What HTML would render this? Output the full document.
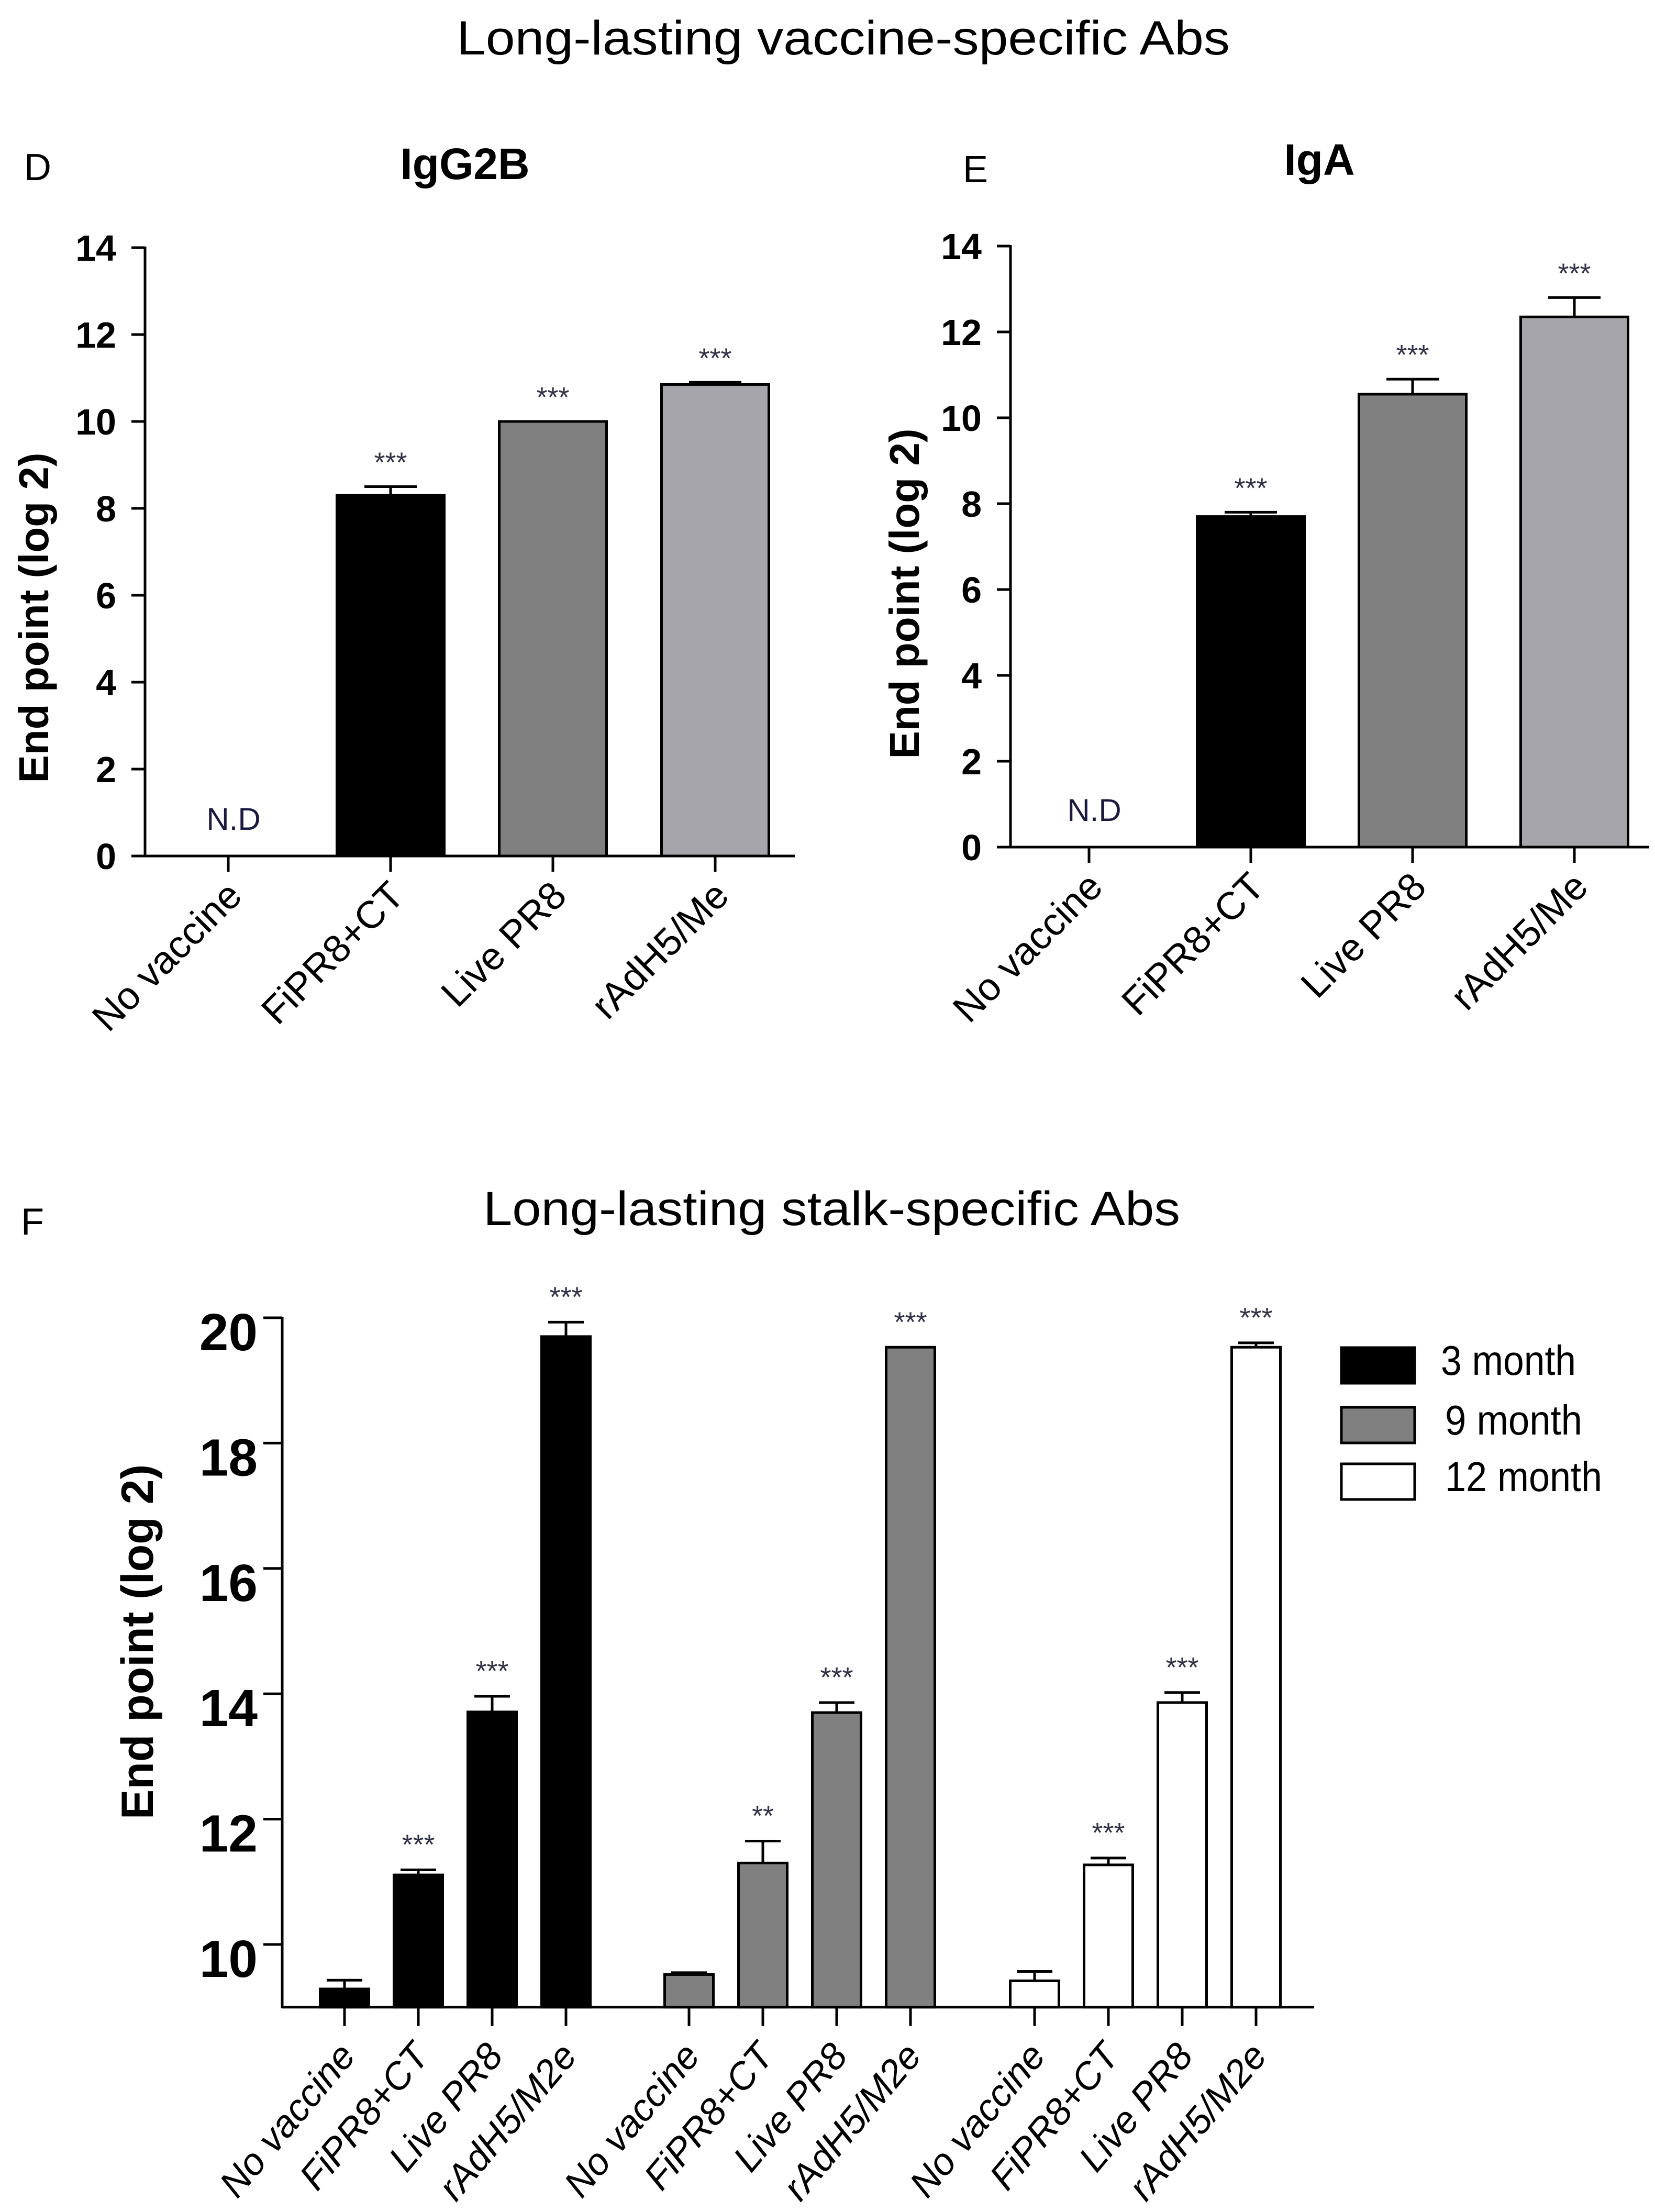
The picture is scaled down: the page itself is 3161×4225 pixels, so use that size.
<!DOCTYPE html>
<html><head><meta charset="utf-8"><style>
html,body{margin:0;padding:0;background:#fff}
svg{display:block}
text{font-family:"Liberation Sans",sans-serif}
</style></head><body>
<svg id="fig" width="3161" height="4225" viewBox="0 0 3161 4225" xmlns="http://www.w3.org/2000/svg">
<text x="872" y="104" font-size="92" textLength="1477" lengthAdjust="spacingAndGlyphs">Long-lasting  vaccine-specific Abs</text>
<text x="46" y="344" font-size="72">D</text>
<text x="1839" y="348" font-size="72">E</text>
<text x="40" y="2358" font-size="72" font-family="Liberation Sans Narrow">F</text>
<text x="888" y="342" font-size="84" font-weight="bold" text-anchor="middle">IgG2B</text>
<text x="2520" y="334" font-size="84" font-weight="bold" text-anchor="middle">IgA</text>
<text x="923" y="2340" font-size="92" font-family="Liberation Sans Narrow" textLength="1331" lengthAdjust="spacingAndGlyphs">Long-lasting  stalk-specific Abs</text>
<g id="chartD"></g>
<g id="chartE"></g>
<g id="chartF"></g>
</svg>
<script>
// Panel D (IgG2B)
const dCategories = ["No vaccine","FiPR8+CT","Live PR8","rAdH5/Me"];
const dValues = [null, 8.3, 10.0, 10.85];
const dErrors = [null, 8.5, 10.0, 10.9];
const dStars = ["", "***", "***", "***"];
const dTicks = [0,2,4,6,8,10,12,14];
// Panel E (IgA)
const eCategories = ["No vaccine","FiPR8+CT","Live PR8","rAdH5/Me"];
const eValues = [null, 7.7, 10.55, 12.35];
const eErrors = [null, 7.8, 10.9, 12.8];
const eStars = ["", "***", "***", "***"];
const eTicks = [0,2,4,6,8,10,12,14];
// Panel F (stalk)
const fCategories = ["No vaccine","FiPR8+CT","Live PR8","rAdH5/M2e"];
const fSeries = ["3 month","9 month","12 month"];
const f3month = [9.29, 11.11, 13.71, 19.7];
const f3monthErr = [9.43, 11.19, 13.96, 19.93];
const f9month = [9.52, 11.3, 13.7, 19.53];
const f9monthErr = [9.55, 11.65, 13.86, 19.53];
const f12month = [9.42, 11.27, 13.86, 19.53];
const f12monthErr = [9.57, 11.38, 14.02, 19.6];
const f3Stars = ["", "***", "***", "***"];
const f9Stars = ["", "**", "***", "***"];
const f12Stars = ["", "***", "***", "***"];
const fTicks = [10,12,14,16,18,20];

const NS = "http://www.w3.org/2000/svg";
function mk(parent, tag, attrs, txt){
  const e = document.createElementNS(NS, tag);
  for (const k in attrs) e.setAttribute(k, attrs[k]);
  if (txt !== undefined) e.textContent = txt;
  parent.appendChild(e);
  return e;
}

function simplePanel(g, cfg){
  const y = v => cfg.y0 - (v - 0) * cfg.pxPerUnit;
  const x = i => cfg.x0 + i * cfg.step;
  let el = mk(g, "line", {x1:cfg.axisX, y1:y(14)-2, x2:cfg.axisX, y2:y(0)+2, stroke:"#000","stroke-width":5});
  
  
  el = mk(g, "line", {x1:cfg.axisX-26, y1:y(0), x2:cfg.axisEnd, y2:y(0), stroke:"#000","stroke-width":5});
  
  
  cfg.ticks.forEach(t=>{
    const tl = mk(g, "line", {x1:cfg.axisX-26, y1:y(t), x2:cfg.axisX, y2:y(t), stroke:"#000","stroke-width":5});
    
    
    const tt = mk(g, "text", {x:cfg.axisX-55, y:y(t)+25, "font-size":70, "font-weight":"bold", "text-anchor":"end"}, String(t));
    
    
  });
  const yt = mk(g, "text", {x:0, y:0, "font-size":80, "font-weight":"bold", "text-anchor":"middle", transform:`translate(${cfg.titleX},${cfg.titleY}) rotate(-90)`}, "End point (log 2)");
  
  
  cfg.cats.forEach((c,i)=>{
    const cx = x(i);
    const tk = mk(g, "line", {x1:cx, y1:y(0), x2:cx, y2:y(0)+30, stroke:"#000","stroke-width":5});
    
    
    const lb = mk(g, "text", {x:0, y:0, "font-size":74, "text-anchor":"end", transform:`translate(${cx+30},${y(0)+80}) rotate(-45)`}, c);
    
    
    const v = cfg.vals[i];
    if (v === null){
      const nd = mk(g, "text", {x:cx+10, y:y(0)-50, "font-size":60, fill:"#1a1a40", "text-anchor":"middle"}, "N.D");
      
      
      return;
    }
    const e = cfg.errs[i];
    if (e > v){
      const eb = mk(g, "path", {d:`M${cx},${y(v)} V${y(e)} M${cx-50},${y(e)} H${cx+50}`, stroke:"#000","stroke-width":5, fill:"none"});
      
      
    }
    const b = mk(g, "rect", {x:cx-cfg.bw/2, y:y(v), width:cfg.bw, height:y(0)-y(v), fill:cfg.colors[i], stroke:"#000","stroke-width":5});
    
    
    const s = mk(g, "text", {x:cx, y:Math.min(y(e),y(v))-28, "font-size":54, fill:"#333348", "text-anchor":"middle"}, cfg.stars[i]);
    
    
  });
}

simplePanel(document.getElementById("chartD"), {
  axisX:277, axisEnd:1518, y0:1635, pxPerUnit:83, x0:436, step:310, bw:205,
  ticks:dTicks, cats:dCategories, vals:dValues, errs:dErrors, stars:dStars,
  colors:["#000","#000","#808080","#a6a6aa"], titleX:92, titleY:1180
});
simplePanel(document.getElementById("chartE"), {
  axisX:1930, axisEnd:3150, y0:1618, pxPerUnit:82, x0:2080, step:309, bw:205,
  ticks:eTicks, cats:eCategories, vals:eValues, errs:eErrors, stars:eStars,
  colors:["#000","#000","#808080","#a6a6aa"], titleX:1755, titleY:1134
});

// Panel F
(function(){
  const g = document.getElementById("chartF");
  const axisX = 539, axisEnd = 2510, yMin = 9.0;
  const y = v => 3714 - (v - 10) * 119.7;
  const yBase = y(yMin);
  const groupStart = [658, 1316, 1976];
  const step = 141, bw = 93;
  const seriesVals = [f3month, f9month, f12month];
  const seriesErrs = [f3monthErr, f9monthErr, f12monthErr];
  const seriesStars = [f3Stars, f9Stars, f12Stars];
  const fills = ["#000", "#808080", "#fff"];
  let el = mk(g, "line", {x1:axisX, y1:y(20)-2, x2:axisX, y2:yBase+2, stroke:"#000","stroke-width":5});
  
  
  el = mk(g, "line", {x1:axisX, y1:yBase, x2:axisEnd, y2:yBase, stroke:"#000","stroke-width":5});
  
  
  fTicks.forEach(t=>{
    const tl = mk(g, "line", {x1:axisX-36, y1:y(t), x2:axisX, y2:y(t), stroke:"#000","stroke-width":5});
    
    
    const tt = mk(g, "text", {x:492, y:y(t)+62, "font-size":100, "font-weight":"bold", "text-anchor":"end"}, String(t));
    
    
  });
  const yt = mk(g, "text", {x:0, y:0, "font-size":86, "font-weight":"bold", "text-anchor":"middle", transform:`translate(292,3136) rotate(-90)`}, "End point (log 2)");
  
  
  seriesVals.forEach((vals, s)=>{
    fCategories.forEach((c, i)=>{
      const cx = groupStart[s] + i * step;
      const v = vals[i], e = seriesErrs[s][i];
      const tk = mk(g, "line", {x1:cx, y1:yBase, x2:cx, y2:yBase+36, stroke:"#000","stroke-width":5});
      
      
      const lb = mk(g, "text", {x:0, y:0, "font-size":72, "font-style":"italic", "text-anchor":"end", transform:`translate(${cx+24},${yBase+95}) rotate(-50)`}, c);
      
      
      if (e > v){
        const eb = mk(g, "path", {d:`M${cx},${y(v)} V${y(e)} M${cx-34},${y(e)} H${cx+34}`, stroke:"#000","stroke-width":5, fill:"none"});
        
        
      }
      const b = mk(g, "rect", {x:cx-bw/2, y:y(v), width:bw, height:yBase-y(v), fill:fills[s], stroke:"#000","stroke-width":5});
      
      
      const st = mk(g, "text", {x:cx, y:Math.min(y(e),y(v))-30, "font-size":54, fill:"#333348", "text-anchor":"middle"}, seriesStars[s][i]);
      
      
    });
  });
  const ly = [2574, 2688, 2796];
  const lw = [258, 262, 300];
  fSeries.forEach((name, s)=>{
    const r = mk(g, "rect", {x:2562, y:ly[s], width:140, height:68, fill:fills[s], stroke:"#000","stroke-width":5});
    
    
    const t = mk(g, "text", {x:s===0?2752:2760, y:ly[s]+52, "font-size":80, "font-family":"Liberation Sans Narrow", textLength:lw[s], lengthAdjust:"spacingAndGlyphs"}, name);
    
    
  });
})();
</script>
</body></html>
